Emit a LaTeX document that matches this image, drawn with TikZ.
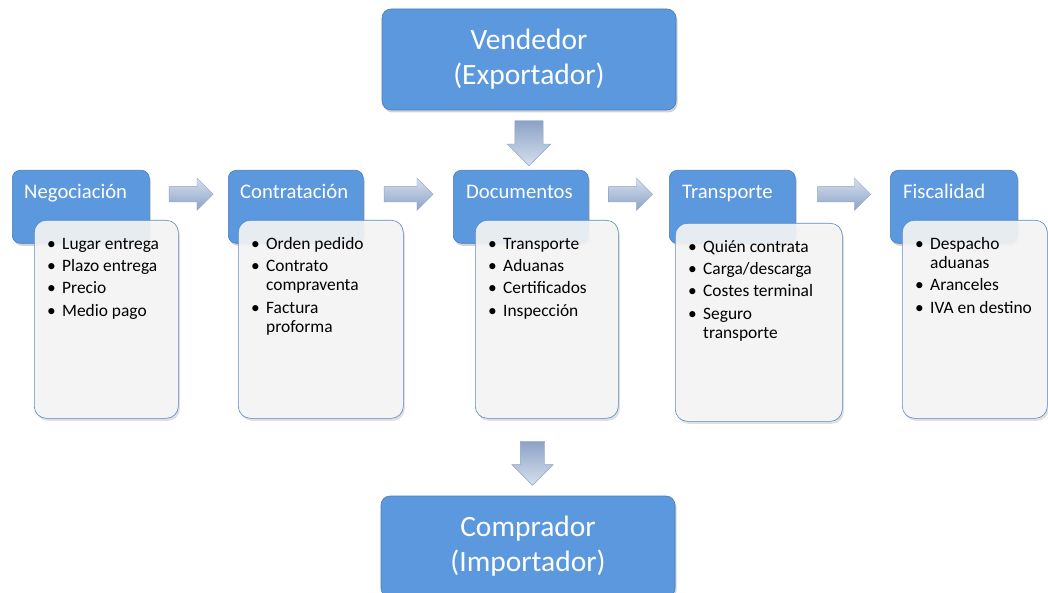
\documentclass[tikz,border=0pt]{standalone}
\usepackage{fontspec}
\setmainfont{Carlito}
\usetikzlibrary{shapes.arrows,shadows,calc}
\definecolor{azul}{RGB}{91,152,222}
\definecolor{azulborde}{RGB}{70,125,190}
\definecolor{gris}{RGB}{246,246,246}
\definecolor{flechaclaro}{RGB}{214,224,238}
\definecolor{flechaoscuro}{RGB}{140,162,198}
\tikzset{
  bigbox/.style={draw=azulborde, fill=azul, rounded corners=9pt, line width=0.6pt,
    drop shadow={opacity=0.35, shadow xshift=1.5pt, shadow yshift=-2.5pt},
    text=white, align=center, font=\fontsize{29.5}{35}\selectfont},
  headbox/.style={draw=azulborde, fill=azul, rounded corners=8pt, line width=0.6pt,
    drop shadow={opacity=0.35, shadow xshift=1.5pt, shadow yshift=-2.5pt},
    anchor=north west, minimum height=73pt},
  headtext/.style={text=white, anchor=base west, inner sep=0pt, font=\fontsize{20.7}{24}\selectfont},
  bodybox/.style={draw=azulborde!90, fill=gris, fill opacity=0.9, rounded corners=12pt,
    line width=0.6pt, drop shadow={opacity=0.25, shadow xshift=1.5pt, shadow yshift=-2.5pt},
    anchor=north west, minimum height=198pt},
  bodytext/.style={anchor=north west, inner sep=0pt, font=\fontsize{17.4}{19.3}\selectfont},
  harrow/.style={single arrow, single arrow head extend=8.5pt, inner xsep=0pt, inner ysep=7.5pt,
    draw=flechaoscuro, line width=0.4pt,
    top color=flechaclaro, bottom color=flechaoscuro},
  varrow/.style={single arrow, rotate=-90, inner xsep=0pt,
    draw=flechaoscuro, line width=0.4pt,
    top color=flechaoscuro, bottom color=flechaclaro}
}
\newcommand{\bul}{\textbullet}
\begin{document}
\begin{tikzpicture}[x=1pt,y=-1pt]
    \useasboundingbox (0,0) rectangle (1048,593);
    % vendedor y comprador
    \node[bigbox, minimum width=294pt, minimum height=101pt] (ven) at (529,59.5) {Vendedor\\(Exportador)};
    \node[bigbox, minimum width=294pt, minimum height=101pt] (com) at (528,546.5) {Comprador\\(Importador)};
    % cabeceras
    \node[headbox, minimum width=137pt] (negH) at (12,170) {};
    \node[headbox, minimum width=135pt] (conH) at (228,170) {};
    \node[headbox, minimum width=135pt] (docH) at (453,170) {};
    \node[headbox, minimum width=126pt] (traH) at (669,170) {};
    \node[headbox, minimum width=127pt] (fisH) at (890,170) {};
    \node[headtext] at ([shift={(12,29)}]negH.north west) {Negociación};
    \node[headtext] at ([shift={(12,29)}]conH.north west) {Contratación};
    \node[headtext] at ([shift={(13,29)}]docH.north west) {Documentos};
    \node[headtext] at ([shift={(13,29)}]traH.north west) {Transporte};
    \node[headtext] at ([shift={(13,29)}]fisH.north west) {Fiscalidad};
    % cuerpos
    \node[bodybox, minimum width=144pt] (negB) at (34,220) {};
    \node[bodybox, minimum width=165pt] (conB) at (238,220) {};
    \node[bodybox, minimum width=143pt] (docB) at (475,220) {};
    \node[bodybox, minimum width=167pt] (traB) at (675,223) {};
    \node[bodybox, minimum width=145pt] (fisB) at (902,220) {};
    \node[bodytext] at ([shift={(13,15.5)}]negB.north west) {\begin{tabular}{@{}p{15pt}@{}l@{}}
      \bul & Lugar entrega\\[3pt] \bul & Plazo entrega\\[3pt] \bul & Precio\\[3pt] \bul & Medio pago
    \end{tabular}};
    \node[bodytext] at ([shift={(13,15.5)}]conB.north west) {\begin{tabular}{@{}p{15pt}@{}l@{}}
      \bul & Orden pedido\\[3pt] \bul & Contrato\\ & compraventa\\[3pt] \bul & Factura\\ & proforma
    \end{tabular}};
    \node[bodytext] at ([shift={(13,15.5)}]docB.north west) {\begin{tabular}{@{}p{15pt}@{}l@{}}
      \bul & Transporte\\[3pt] \bul & Aduanas\\[3pt] \bul & Certificados\\[3pt] \bul & Inspección
    \end{tabular}};
    \node[bodytext] at ([shift={(13,15.5)}]traB.north west) {\begin{tabular}{@{}p{15pt}@{}l@{}}
      \bul & Quién contrata\\[3pt] \bul & Carga/descarga\\[3pt] \bul & Costes terminal\\[3pt] \bul & Seguro\\ & transporte
    \end{tabular}};
    \node[bodytext] at ([shift={(13,15.5)}]fisB.north west) {\begin{tabular}{@{}p{15pt}@{}l@{}}
      \bul & Despacho\\ & aduanas\\[3pt] \bul & Aranceles\\[3pt] \bul & IVA en destino
    \end{tabular}};
    % flechas
    \node[harrow, minimum height=44pt] (f1) at ($(negH.east)!0.5!(conH.west)+(-1.5,-12.5)$) {};
    \node[harrow, minimum height=49pt] (f2) at ($(conH.east)!0.5!(docH.west)+(-3.5,-12.5)$) {};
    \node[harrow, minimum height=44pt] (f3) at ($(docH.east)!0.5!(traH.west)+(-2,-12.5)$) {};
    \node[harrow, minimum height=53pt] (f4) at ($(traH.east)!0.5!(fisH.west)+(-2.5,-12.5)$) {};
    \node[varrow, minimum height=45pt, inner ysep=14pt, single arrow head extend=7.5pt] (v1)
      at ($(ven.south)!0.5!(docH.north -| ven.south)+(0,-4)$) {};
    \node[varrow, minimum height=44pt, inner ysep=12pt, single arrow head extend=8.5pt] (v2)
      at ($(docB.south -| com.north)!0.5!(com.north)+(4.5,0)$) {};
\end{tikzpicture}
\end{document}
